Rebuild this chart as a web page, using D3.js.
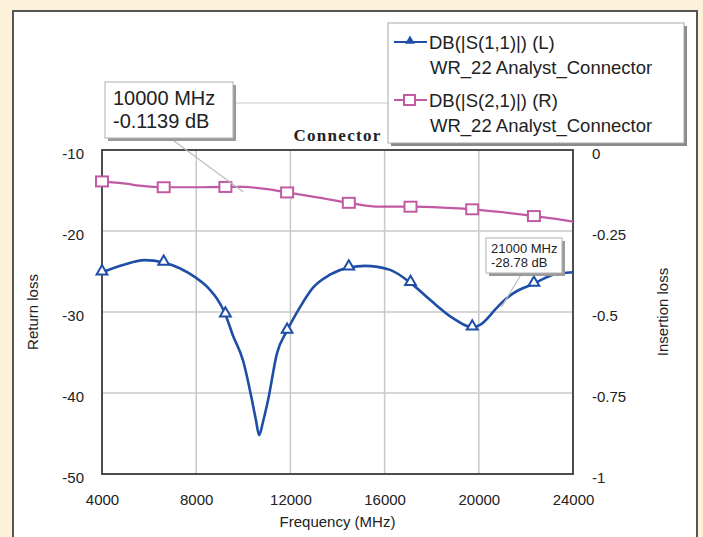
<!DOCTYPE html>
<html>
<head>
<meta charset="utf-8">
<script src="https://cdn.jsdelivr.net/npm/d3@7"></script>
<style>
  body { margin: 0; background: #fdf1da; }
  svg { display: block; }
  text { font-family: "Liberation Sans", Arial, sans-serif; fill: #222; }
</style>
</head>
<body>
<svg id="chart" width="703" height="537"></svg>
<script>
// S11 return loss, left axis (MHz, dB)
const rlFreq = [4000, 5000, 5800, 6620, 7300, 7950, 8500, 9240, 9560, 9990, 10370, 10540, 10670, 10850, 11050, 11430, 11860, 12410, 12960, 13680, 14480, 15170, 16230, 17100, 17930, 18920, 19720, 20050, 20760, 21000, 21460, 22340, 23160, 24000];
const rlDb = [-25.1, -24.1, -23.6, -23.9, -24.6, -25.7, -27.0, -30.3, -32.9, -36.0, -40.9, -43.4, -45.2, -43.4, -40.9, -35.1, -32.3, -29.4, -27.0, -25.4, -24.5, -24.3, -24.8, -26.4, -28.5, -30.8, -31.9, -31.6, -29.5, -28.78, -27.7, -26.5, -25.4, -25.1];

// S21 insertion loss, right axis
const ilFreq = [4000, 5000, 5600, 6620, 8000, 9240, 10000, 11000, 11860, 13200, 14480, 15800, 17100, 18500, 19720, 21000, 22340, 23200, 24000];
const ilDb = [-0.097, -0.104, -0.110, -0.115, -0.115, -0.114, -0.1139, -0.121, -0.131, -0.147, -0.163, -0.175, -0.175, -0.178, -0.183, -0.192, -0.204, -0.212, -0.221];

// frequencies that carry a marker symbol
const markerFreq = [4000, 6620, 9240, 11860, 14480, 17100, 19720, 22340];

const xTicks = [4000, 8000, 12000, 16000, 20000, 24000];
const leftTicks = [-10, -20, -30, -40, -50];
const rightTicks = [0, -0.25, -0.5, -0.75, -1];

const legendNames = ["DB(|S(1,1)|) (L)", "DB(|S(2,1)|) (R)"];
const legendSub = "WR_22 Analyst_Connector";

const blue = "#1f4ea6";
const pink = "#c05aa2";

const svg = d3.select("#chart");

// white panel on the cream page
svg.append("rect")
    .attr("x", 13).attr("y", 11)
    .attr("width", 684).attr("height", 540)
    .attr("fill", "#fff")
    .attr("stroke", "#555")
    .attr("stroke-width", 2);

const pLeft = 102, pRight = 573, pTop = 150, pBottom = 474;

const x = d3.scaleLinear().domain([4000, 24000]).range([pLeft, pRight]);
const yL = d3.scaleLinear().domain([-50, -10]).range([pBottom, pTop]);
const yR = d3.scaleLinear().domain([-1, 0]).range([pBottom, pTop]);

// grid
svg.append("g")
    .selectAll("line")
    .data(xTicks.slice(1, -1))
    .join("line")
    .attr("x1", d => x(d)).attr("x2", d => x(d))
    .attr("y1", pTop).attr("y2", pBottom)
    .attr("stroke", "#c8c8c8").attr("stroke-width", 1.5);

svg.append("g")
    .selectAll("line")
    .data(leftTicks.slice(1, -1))
    .join("line")
    .attr("x1", pLeft).attr("x2", pRight)
    .attr("y1", d => yL(d)).attr("y2", d => yL(d))
    .attr("stroke", "#c8c8c8").attr("stroke-width", 1.5);

svg.append("rect")
    .attr("x", pLeft).attr("y", pTop)
    .attr("width", pRight - pLeft).attr("height", pBottom - pTop)
    .attr("fill", "none")
    .attr("stroke", "#3a3a3a")
    .attr("stroke-width", 1.8);

// axes - plain hyphen minus like the original
const plain = d => String(d);
const axLeft = svg.append("g")
    .attr("transform", `translate(${pLeft},0)`)
    .call(d3.axisLeft(yL).tickValues(leftTicks).tickSize(0).tickPadding(18).tickFormat(plain));
const axRight = svg.append("g")
    .attr("transform", `translate(${pRight},0)`)
    .call(d3.axisRight(yR).tickValues(rightTicks).tickSize(0).tickPadding(19).tickFormat(plain));
const axBottom = svg.append("g")
    .attr("transform", `translate(0,${pBottom})`)
    .call(d3.axisBottom(x).tickValues(xTicks).tickSize(0).tickPadding(20).tickFormat(plain));

[axLeft, axRight, axBottom].forEach(g => {
    g.select(".domain").remove();
    g.selectAll("text")
	.attr("font-family", "Liberation Sans, Arial, sans-serif")
	.attr("font-size", 15)
	.attr("fill", "#1a1a1a");
});
axLeft.selectAll("text").attr("dy", "0.58em");
axRight.selectAll("text").attr("dy", "0.58em");

svg.append("text")
    .attr("transform", "translate(38,312) rotate(-90)")
    .attr("text-anchor", "middle")
    .attr("font-size", 15)
    .text("Return loss");

svg.append("text")
    .attr("transform", "translate(668,312) rotate(-90)")
    .attr("text-anchor", "middle")
    .attr("font-size", 15)
    .text("Insertion loss");

svg.append("text")
    .attr("x", (pLeft + pRight) / 2).attr("y", 527)
    .attr("text-anchor", "middle")
    .attr("font-size", 15)
    .text("Frequency (MHz)");

svg.append("text")
    .attr("x", (pLeft + pRight) / 2).attr("y", 141)
    .attr("text-anchor", "middle")
    .attr("font-size", 17)
    .attr("font-weight", "bold")
    .attr("letter-spacing", 1.3)
    .style("font-family", "Liberation Serif, Times New Roman, serif")
    .text("Connector");

// curves
const rlLine = d3.line()
    .x((d, i) => x(rlFreq[i]))
    .y(d => yL(d))
    .curve(d3.curveMonotoneX);
const ilLine = d3.line()
    .x((d, i) => x(ilFreq[i]))
    .y(d => yR(d))
    .curve(d3.curveMonotoneX);

svg.append("path")
    .attr("d", ilLine(ilDb))
    .attr("fill", "none")
    .attr("stroke", pink)
    .attr("stroke-width", 2.2);

svg.append("path")
    .attr("d", rlLine(rlDb))
    .attr("fill", "none")
    .attr("stroke", blue)
    .attr("stroke-width", 2.6);

// markers
const tri = d3.symbol().type(d3.symbolTriangle).size(50);

svg.append("g")
    .selectAll("rect")
    .data(markerFreq)
    .join("rect")
    .attr("x", d => x(d) - 6)
    .attr("y", d => yR(ilDb[ilFreq.indexOf(d)]) - 5)
    .attr("width", 12).attr("height", 10)
    .attr("fill", "#fff")
    .attr("stroke", pink)
    .attr("stroke-width", 2);

svg.append("g")
    .selectAll("path")
    .data(markerFreq)
    .join("path")
    .attr("d", tri)
    .attr("transform", d => `translate(${x(d)},${yL(rlDb[rlFreq.indexOf(d)]) - 1})`)
    .attr("fill", "#fff")
    .attr("stroke", blue)
    .attr("stroke-width", 2);

// marker readouts
function noteBox(bx, by, w, h, lines, fs, lineGap, tx, ty) {
    svg.append("rect")
	.attr("x", bx + 3).attr("y", by + 3)
	.attr("width", w).attr("height", h)
	.attr("fill", "#9a9a9a");
    svg.append("rect")
	.attr("x", bx).attr("y", by)
	.attr("width", w).attr("height", h)
	.attr("fill", "#fff")
	.attr("stroke", "#b0b0b0");
    lines.forEach((t, i) => {
	svg.append("text")
	    .attr("x", tx).attr("y", ty + i * lineGap)
	    .attr("font-size", fs)
	    .text(t);
    });
}

const ix = ilFreq.indexOf(10000);
const rx = rlFreq.indexOf(21000);

svg.append("line")
    .attr("x1", 233).attr("y1", 103).attr("x2", 388).attr("y2", 103)
    .attr("stroke", "#c8c8c8").attr("stroke-width", 1.2);
svg.append("line")
    .attr("x1", 170).attr("y1", 138)
    .attr("x2", x(10000)).attr("y2", yR(ilDb[ix]) + 5)
    .attr("stroke", "#bdbdbd").attr("stroke-width", 1.2);
svg.append("line")
    .attr("x1", 522).attr("y1", 273)
    .attr("x2", x(21000) - 1).attr("y2", yL(rlDb[rx]) + 5)
    .attr("stroke", "#bdbdbd").attr("stroke-width", 1.2);

noteBox(105, 82, 128, 56, [10000 + " MHz", ilDb[ix] + " dB"], 20, 23, 113, 105);
noteBox(486, 238, 76, 35, [21000 + " MHz", rlDb[rx] + " dB"], 13, 14, 491, 253);

// legend
svg.append("rect")
    .attr("x", 391).attr("y", 26)
    .attr("width", 296).attr("height", 120)
    .attr("fill", "#8a8a8a");
svg.append("rect")
    .attr("x", 388).attr("y", 23)
    .attr("width", 296).attr("height", 120)
    .attr("fill", "#fff")
    .attr("stroke", "#a8a8a8");

const legendY = [49, 107];
legendNames.forEach((name, i) => {
    const col = i === 0 ? blue : pink;
    const ly = legendY[i] - 7;
    svg.append("line")
	.attr("x1", 394).attr("x2", 427)
	.attr("y1", ly).attr("y2", ly)
	.attr("stroke", col).attr("stroke-width", 2);
    if (i === 0) {
	svg.append("path")
	    .attr("d", d3.symbol().type(d3.symbolTriangle).size(40)())
	    .attr("transform", `translate(410,${ly - 1})`)
	    .attr("fill", col);
    } else {
	svg.append("rect")
	    .attr("x", 404).attr("y", ly - 5)
	    .attr("width", 11).attr("height", 10)
	    .attr("fill", "#fff")
	    .attr("stroke", col).attr("stroke-width", 2);
    }
    svg.append("text")
	.attr("x", 429).attr("y", legendY[i])
	.attr("font-size", 18.5)
	.text(name);
    svg.append("text")
	.attr("x", 430).attr("y", legendY[i] + 25)
	.attr("font-size", 18.5)
	.text(legendSub);
});
</script>
</body>
</html>
